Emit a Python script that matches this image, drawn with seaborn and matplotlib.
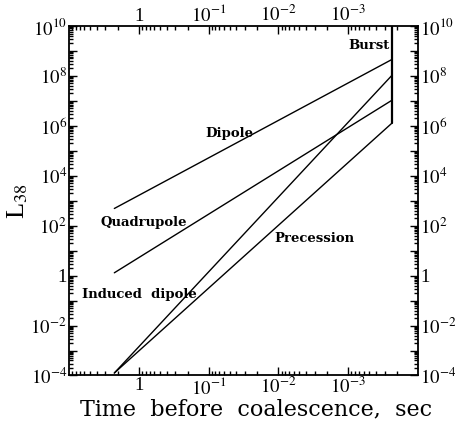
import numpy as np
import pandas as pd
import seaborn as sns
import matplotlib.pyplot as plt
from matplotlib.ticker import LogLocator, FixedLocator, FuncFormatter, NullFormatter

# wartosci (log-log)
serie = ["Dipole", "Quadrupole", "Induced dipole", "Precession", "Burst"]
czas_start = [2.24, 2.24, 2.24, 2.24, 2.35e-4]
czas_koniec = [2.35e-4, 2.35e-4, 2.35e-4, 2.35e-4, 2.35e-4]
lum_start = [4.9e2, 1.3, 1.26e-4, 1.26e-4, 1.3e6]
lum_koniec = [4.6e8, 1.07e7, 1.07e8, 1.3e6, 1e10]

etykiety = ["Burst", "Dipole", "Quadrupole", "Precession", "Induced  dipole"]
etykiety_x = [2.55e-4, 0.05, 0.85, 0.003, 0.97]
etykiety_y = [1.6e9, 5.1e5, 1.3e2, 31, 0.18]


def dane():
    wiersze = []
    for s, t0, t1, l0, l1 in zip(serie, czas_start, czas_koniec, lum_start, lum_koniec):
        wiersze.append((s, t0, l0))
        wiersze.append((s, t1, l1))
    return pd.DataFrame(wiersze, columns=["seria", "t", "L"])


def fmt_log(v, pos):
    n = int(round(np.log10(v)))
    if n == 0:
        return "1"
    return r"$10^{%d}$" % n


def wykres(df):
    sns.set_style("ticks", {"text.color": "black", "axes.labelcolor": "black",
                            "xtick.color": "black", "ytick.color": "black"})
    plt.rcParams["font.family"] = ["Liberation Serif", "DejaVu Serif"]
    plt.rcParams["mathtext.fontset"] = "stix"
    fig = plt.figure(figsize=(4.55, 4.23), dpi=100)
    ax = fig.add_axes([0.1516, 0.1123, 0.767, 0.8262])

    for s in serie:
        d = df[df["seria"] == s]
        sns.lineplot(data=d, x="t", y="L", color="black", lw=1.0 if s != "Burst" else 1.6,
                     ax=ax, sort=False, estimator=None)

    ax.set_xscale("log")
    ax.set_yscale("log")
    ax.set_xlim(10, 1e-4)
    ax.set_ylim(1e-4, 1e10)

    ax.xaxis.set_major_locator(FixedLocator([1, 0.1, 0.01, 0.001]))
    ax.xaxis.set_major_formatter(FuncFormatter(fmt_log))
    ax.xaxis.set_minor_locator(LogLocator(base=10, subs=np.arange(2, 10), numticks=20))
    ax.xaxis.set_minor_formatter(NullFormatter())

    ax.yaxis.set_major_locator(LogLocator(base=10, subs=(1.0,), numticks=30))
    ax.yaxis.set_major_formatter(FuncFormatter(lambda v, p: fmt_log(v, p) if int(round(np.log10(v))) % 2 == 0 else ""))
    ax.yaxis.set_minor_locator(LogLocator(base=10, subs=np.arange(2, 10), numticks=30))
    ax.yaxis.set_minor_formatter(NullFormatter())

    ax.tick_params(which="both", direction="in", top=True, right=True,
                   labeltop=True, labelright=True, labelsize=13.5, width=1.0,
                   color="black", labelcolor="black")
    ax.tick_params(which="major", length=6)
    ax.tick_params(which="minor", length=3)
    ax.tick_params(axis="x", pad=1)
    ax.tick_params(axis="y", pad=1.5)
    for sp in ax.spines.values():
        sp.set_linewidth(1.3)
        sp.set_color("black")

    for tekst, x, y in zip(etykiety, etykiety_x, etykiety_y):
        ha = "right" if tekst == "Burst" else "center"
        ax.text(x, y, tekst, ha=ha, va="center", fontsize=9.5, fontweight="bold",
                color="black", family=["DejaVu Serif"])

    ax.set_xlabel("Time  before  coalescence,  sec", fontsize=16, color="black",
                  family=["DejaVu Serif"])
    ax.xaxis.set_label_coords(0.535, -0.065)
    ax.set_ylabel(r"L$_{38}$", fontsize=19, labelpad=0, color="black")

    fig.savefig("out.png", dpi=100)


if __name__ == "__main__":
    wykres(dane())
